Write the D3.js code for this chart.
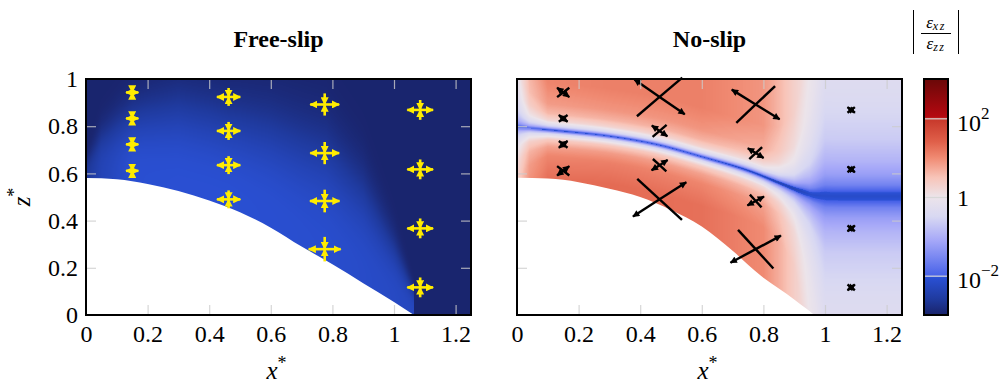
<!DOCTYPE html>
<html>
<head>
<meta charset="utf-8">
<script src="https://cdn.jsdelivr.net/npm/d3@7/dist/d3.min.js"></script>
<style>
  body { margin: 0; background: #fff; }
  svg, svg text { font-family: "Liberation Serif", "DejaVu Serif", serif; fill: #000; }
</style>
</head>
<body>
<svg id="chart" width="1007" height="385"></svg>
<script>
// ---- values ----
const xTicks = [0, 0.2, 0.4, 0.6, 0.8, 1, 1.2];
const xTickLabels = ["0", "0.2", "0.4", "0.6", "0.8", "1", "1.2"];
const zTicks = [0, 0.2, 0.4, 0.6, 0.8, 1];
const zTickLabels = ["0", "0.2", "0.4", "0.6", "0.8", "1"];
const cbTicks = [1e-2, 1, 1e2];
const cbBase = ["10", "1", "10"];
const cbExp = ["\u22122", "", "2"];
const panelTitles = ["Free-slip", "No-slip"];

// bed profile (lower edge of the coloured field)
const fsBedX = [0, 0.1, 0.2, 0.3, 0.4, 0.5, 0.6, 0.7, 0.8, 0.9, 1.0, 1.065];
const fsBedZ = [0.58, 0.575, 0.555, 0.525, 0.485, 0.435, 0.37, 0.29, 0.215, 0.135, 0.055, 0];
const nsBedX = [0, 0.1, 0.2, 0.3, 0.4, 0.5, 0.6, 0.7, 0.79, 0.85, 0.9, 0.94, 0.965];
const nsBedZ = [0.582, 0.578, 0.563, 0.535, 0.5, 0.445, 0.375, 0.272, 0.168, 0.112, 0.066, 0.026, 0];

// free-slip field: log10 ratio = background + amplitude * decay with height above bed
const fsBg = -2.97;
const fsX = [0, 0.05, 0.15, 0.3, 0.46, 0.6, 0.78, 0.9, 1.0, 1.065];
const fsAmp = [0.3, 0.6, 0.88, 0.9, 0.9, 0.88, 0.85, 0.8, 0.75, 0.7];
const fsH = [0.08, 0.2, 0.3, 0.38, 0.4, 0.45, 0.5, 0.42, 0.25, 0.1];

// no-slip field: red level away from the low-ratio band, band centreline and band shape
const nsX = [0, 0.04, 0.1, 0.3, 0.6, 0.8, 0.85, 0.9, 0.95, 1.0, 1.25];
const nsTop = [0.0, 0.7, 1.05, 1.1, 1.1, 0.9, 0.62, 0.32, 0.05, -0.12, -0.12];
const nsBot = [0.4, 1.0, 1.25, 1.3, 1.25, 1.0, 0.7, 0.35, 0.05, -0.12, -0.12];
const nsWidth = [2.0, 1.4, 1.0, 1.0, 1.0, 1.0, 1.1, 1.5, 3.0, 6.0, 6.0];
const nsDepth = [0.6, 0.8, 1.0, 1.0, 1.0, 1.0, 0.95, 0.85, 0.7, 0.64, 0.64];
const bandX = [0, 0.15, 0.3, 0.46, 0.6, 0.76, 0.86, 0.92, 0.97, 1.05, 1.25];
const bandZ = [0.795, 0.778, 0.757, 0.72, 0.67, 0.607, 0.555, 0.525, 0.507, 0.503, 0.503];
const dropD = [0, 0.004, 0.008, 0.015, 0.025, 0.04, 0.07, 0.11, 0.2];
const dropV = [-3.2, -2.9, -2.3, -1.75, -1.3, -0.85, -0.45, -0.2, 0];

// colour map (log10 of the ratio)
const cmapLog = [-3, -2.6, -2.05, -2.0, -1.6, -1.1, -0.5, 0, 0.5, 1.0, 1.4, 1.95, 2.05, 3];
const cmapColor = ["#19236a", "#1f3a9e", "#2a50d4", "#4862e8", "#7282f0", "#a6a8f8", "#d8d8f2",
  "#ece4ea", "#f8c4b8", "#f08a72", "#e0604a", "#c83a2c", "#b40810", "#6a0808"];

// strain-rate crosses
const markerX = [0.15, 0.15, 0.15, 0.15, 0.463, 0.463, 0.463, 0.463,
  0.775, 0.775, 0.775, 0.775, 1.085, 1.085, 1.085, 1.085];
const markerZ = [0.943, 0.833, 0.723, 0.611, 0.924, 0.78, 0.635, 0.49,
  0.892, 0.686, 0.483, 0.279, 0.869, 0.617, 0.367, 0.117];
const fsStrain = [0.02, 0.02, 0.02, 0.02, 0.038, 0.038, 0.038, 0.038,
  0.047, 0.047, 0.048, 0.052, 0.042, 0.042, 0.042, 0.042];
const nsStrain = [0.028, 0.02, 0.02, 0.028, 0.11, 0.034, 0.034, 0.113,
  0.1, 0.033, 0.033, 0.1, 0.017, 0.017, 0.017, 0.017];
const nsAngle = [-45, -45, 45, 45, -42, -42, 40, 40, -39, -39, 35, 35, -45, -45, 45, 45];

// ---- layout ----
const serif = "'Liberation Serif', 'DejaVu Serif', serif";
const svg = d3.select("#chart").style("font-family", serif);
const plotTop = 79, plotBottom = 315;
const panelLeft = [86, 517];
const panelW = 385;
const cbLeft = 924, cbW = 24;

const y = d3.scaleLinear().domain([0, 1]).range([plotBottom, plotTop]);
const xs = panelLeft.map(l => d3.scaleLinear().domain([0, 1.25]).range([l, l + panelW]));

const cmap = d3.scaleLinear().domain(cmapLog).range(cmapColor).clamp(true);
const LUT = d3.range(601).map(k => d3.rgb(cmap(-3 + k * 0.01)));
const lut = v => LUT[Math.max(0, Math.min(600, Math.round((v + 3) * 100)))];

const defs = svg.append("defs");
function arrowDef(id, color, w, h) {
  defs.append("marker").attr("id", id)
    .attr("viewBox", "0 0 10 10").attr("refX", 9).attr("refY", 5)
    .attr("markerWidth", w).attr("markerHeight", h)
    .attr("markerUnits", "userSpaceOnUse").attr("orient", "auto")
    .append("path").attr("d", "M0,0 L10,5 L0,10 Z").attr("fill", color);
}
arrowDef("ahY", "#ffec00", 8, 8);
arrowDef("ahK", "#000", 9, 7);

// ---- field rendering ----
function renderField(x, valueAt) {
  const x0 = x.range()[0];
  const w = panelW, h = plotBottom - plotTop;
  const canvas = document.createElement("canvas");
  canvas.width = w; canvas.height = h;
  const ctx = canvas.getContext("2d");
  const img = ctx.createImageData(w, h);
  for (let j = 0; j < h; j++) {
    const py = plotTop + j + 0.5;
    const zv = y.invert(py);
    for (let i = 0; i < w; i++) {
      const px = x0 + i + 0.5;
      const c = lut(valueAt(x.invert(px), zv, i, py));
      const k = (j * w + i) * 4;
      img.data[k] = c.r; img.data[k + 1] = c.g; img.data[k + 2] = c.b; img.data[k + 3] = 255;
    }
  }
  ctx.putImageData(img, 0, 0);
  return canvas.toDataURL();
}

// free-slip
const fsBed = d3.scaleLinear().domain(fsBedX).range(fsBedZ).clamp(true);
const fsAmpS = d3.scaleLinear().domain(fsX).range(fsAmp).clamp(true);
const fsHS = d3.scaleLinear().domain(fsX).range(fsH).clamp(true);
const fsEnd = fsBedX[fsBedX.length - 1];
function fsValue(xv, zv) {
  if (xv >= fsEnd) return fsBg;
  const hgt = Math.max(0, zv - fsBed(xv));
  return fsBg + fsAmpS(xv) * Math.exp(-Math.pow(hgt / fsHS(xv), 3));
}

// no-slip: band centreline sampled along a smooth curve
const xN = xs[1];
const bandPath = svg.append("path")
  .attr("d", d3.line().x(d => xN(d[0])).y(d => y(d[1])).curve(d3.curveMonotoneX)(d3.zip(bandX, bandZ)))
  .attr("fill", "none");
const bandNode = bandPath.node();
const bandLen = bandNode.getTotalLength();
const bandPts = d3.range(0, bandLen, 0.5).map(l => bandNode.getPointAtLength(l));
bandPath.remove();
const bis = d3.bisector(p => p.x).left;
const bandYAt = px => {
  const k = Math.max(1, Math.min(bandPts.length - 1, bis(bandPts, px)));
  const a = bandPts[k - 1], b = bandPts[k];
  const t = b.x === a.x ? 0 : (px - a.x) / (b.x - a.x);
  return a.y + t * (b.y - a.y);
};
const bandCol = d3.range(panelW).map(i => {
  const px = xN.range()[0] + i + 0.5;
  const by = bandYAt(px);
  const s = (bandYAt(px + 1) - bandYAt(px - 1)) / 2;
  return { y: by, c: 1 / Math.sqrt(1 + s * s) };
});
const nsTopS = d3.scaleLinear().domain(nsX).range(nsTop).clamp(true);
const nsBotS = d3.scaleLinear().domain(nsX).range(nsBot).clamp(true);
const nsWidthS = d3.scaleLinear().domain(nsX).range(nsWidth).clamp(true);
const nsDepthS = d3.scaleLinear().domain(nsX).range(nsDepth).clamp(true);
const dropS = d3.scaleLinear().domain(dropD).range(dropV).clamp(true);
const pxPerZ = plotBottom - plotTop;
function nsValue(xv, zv, i, py) {
  const b = bandCol[i];
  const d = Math.abs(py - b.y) * b.c / pxPerZ;
  const base = py < b.y ? nsTopS(xv) : nsBotS(xv);
  return base + nsDepthS(xv) * dropS(d / nsWidthS(xv));
}

const beds = [[fsBedX, fsBedZ], [nsBedX, nsBedZ]];
const values = [fsValue, nsValue];

panelLeft.forEach((left, p) => {
  const x = xs[p];
  const g = svg.append("g");
  g.append("image")
    .attr("x", left).attr("y", plotTop).attr("width", panelW).attr("height", plotBottom - plotTop)
    .attr("preserveAspectRatio", "none")
    .attr("href", renderField(x, values[p]));

  // bed (no ice) region
  g.append("path")
    .attr("d", d3.area().x(d => x(d[0])).y0(y(0)).y1(d => y(d[1])).curve(d3.curveMonotoneX)(d3.zip(beds[p][0], beds[p][1])))
    .attr("fill", "#fff");

  // crosses
  const mg = g.append("g").attr("fill", "none").attr("stroke-linecap", "butt");
  markerX.forEach((mx, i) => {
    const mz = markerZ[i];
    const L = p === 0 ? fsStrain[i] : nsStrain[i];
    const a = (p === 0 ? 0 : nsAngle[i]) * Math.PI / 180;
    const ex = L * Math.cos(a), ez = L * Math.sin(a);
    const cx = -L * Math.sin(a), cz = L * Math.cos(a);
    const color = p === 0 ? "#ffec00" : "#000";
    const head = p === 0 ? "url(#ahY)" : "url(#ahK)";
    const sw = p === 0 ? 2.6 : 2.4;
    [[cx, cz], [-cx, -cz]].forEach(([dx, dz]) => {
      mg.append("line")
        .attr("x1", x(mx + dx)).attr("y1", y(mz + dz))
        .attr("x2", x(mx)).attr("y2", y(mz))
        .attr("stroke", color).attr("stroke-width", sw)
        .attr("marker-end", p === 0 ? head : null);
    });
    [[ex, ez], [-ex, -ez]].forEach(([dx, dz]) => {
      mg.append("line")
        .attr("x1", x(mx)).attr("y1", y(mz))
        .attr("x2", x(mx + dx)).attr("y2", y(mz + dz))
        .attr("stroke", color).attr("stroke-width", sw)
        .attr("marker-end", head);
    });
  });

  // axes (ticks inside, on all four sides)
  const axB = g.append("g").attr("transform", `translate(0,${plotBottom})`)
    .call(d3.axisBottom(x).tickValues(xTicks).tickFormat((d, i) => xTickLabels[i]).tickSizeInner(-10).tickSizeOuter(0).tickPadding(10));
  const axT = g.append("g").attr("transform", `translate(0,${plotTop})`)
    .call(d3.axisTop(x).tickValues(xTicks).tickFormat("").tickSizeInner(-10).tickSizeOuter(0));
  const axL = g.append("g").attr("transform", `translate(${left},0)`)
    .call(d3.axisLeft(y).tickValues(zTicks).tickFormat((d, i) => p === 0 ? zTickLabels[i] : "").tickSizeInner(-10).tickSizeOuter(0).tickPadding(8));
  const axR = g.append("g").attr("transform", `translate(${left + panelW},0)`)
    .call(d3.axisRight(y).tickValues(zTicks).tickFormat("").tickSizeInner(-10).tickSizeOuter(0));
  [axB, axT, axL, axR].forEach(ax => {
    ax.attr("font-family", null).attr("font-size", null);
    ax.select(".domain").remove();
    ax.selectAll(".tick line").attr("stroke", "#cccccc").attr("stroke-opacity", 0.8).attr("stroke-width", 1.2);
    ax.selectAll(".tick text").style("font-family", serif).style("font-size", "24px").attr("fill", "#000");
  });
  // hide ticks at the frame corners
  axB.selectAll(".tick").filter(d => d === 0).select("line").remove();
  axT.selectAll(".tick").filter(d => d === 0).select("line").remove();
  axL.selectAll(".tick").filter(d => d === 0 || d === 1).select("line").remove();
  axR.selectAll(".tick").filter(d => d === 0 || d === 1).select("line").remove();

  g.append("rect")
    .attr("x", left).attr("y", plotTop).attr("width", panelW).attr("height", plotBottom - plotTop)
    .attr("fill", "none").attr("stroke", "#000").attr("stroke-width", 2);

  // title
  g.append("text").attr("x", left + panelW / 2).attr("y", 47)
    .attr("text-anchor", "middle").style("font-family", serif).style("font-size", "24px").style("font-weight", "bold")
    .text(panelTitles[p]);

  // x label
  const xl = g.append("text").attr("x", left + panelW / 2 - 2).attr("y", 379)
    .attr("text-anchor", "middle").style("font-family", serif).style("font-size", "25px");
  xl.append("tspan").style("font-style", "italic").text("x");
  xl.append("tspan").style("font-size", "18px").attr("dy", -10).text("*");
});

// z label
const zl = svg.append("text").attr("transform", `translate(30,${(plotTop + plotBottom) / 2}) rotate(-90)`)
  .attr("text-anchor", "middle").style("font-family", serif).style("font-size", "25px");
zl.append("tspan").style("font-style", "italic").text("z");
zl.append("tspan").style("font-size", "18px").attr("dy", -10).text("*");

// ---- colour bar ----
const cbScale = d3.scaleLog().domain([1e-3, 1e3]).range([plotBottom, plotTop]);
const grad = defs.append("linearGradient").attr("id", "cbGrad")
  .attr("x1", 0).attr("y1", 1).attr("x2", 0).attr("y2", 0);
cmapLog.forEach((v, i) => {
  grad.append("stop").attr("offset", (v + 3) / 6).attr("stop-color", cmapColor[i]);
});
svg.append("rect").attr("x", cbLeft).attr("y", plotTop).attr("width", cbW).attr("height", plotBottom - plotTop)
  .attr("fill", "url(#cbGrad)");
const cbAx = svg.append("g").attr("transform", `translate(${cbLeft + cbW},0)`)
  .call(d3.axisRight(cbScale).tickValues(cbTicks).tickFormat("").tickSizeInner(-cbW).tickSizeOuter(0).tickPadding(8));
cbAx.attr("font-family", null).attr("font-size", null);
cbAx.select(".domain").remove();
cbAx.selectAll(".tick line").attr("stroke", "#d8d8d8").attr("stroke-width", 1.2);
cbAx.selectAll(".tick").each(function (d, i) {
  const t = d3.select(this).append("text")
    .attr("x", 9).attr("y", cbExp[i] ? 12 : 8)
    .style("font-family", serif).style("font-size", "24px").attr("fill", "#000");
  t.append("tspan").text(cbBase[i]);
  if (cbExp[i]) t.append("tspan").style("font-size", "17px").attr("dy", -12).text(cbExp[i]);
});
svg.append("rect").attr("x", cbLeft).attr("y", plotTop).attr("width", cbW).attr("height", plotBottom - plotTop)
  .attr("fill", "none").attr("stroke", "#000").attr("stroke-width", 2);

// colour bar title |eps_xz / eps_zz|
const cx0 = cbLeft + cbW / 2;
const ttl = svg.append("g");
[cx0 - 22.5, cx0 + 22.5].forEach(bx => {
  ttl.append("line").attr("x1", bx).attr("x2", bx).attr("y1", 10).attr("y2", 54)
    .attr("stroke", "#000").attr("stroke-width", 1);
});
ttl.append("line").attr("x1", cx0 - 15).attr("x2", cx0 + 15).attr("y1", 33.5).attr("y2", 33.5)
  .attr("stroke", "#000").attr("stroke-width", 1);
[["xz", 28], ["zz", 49]].forEach(([sub, by]) => {
  const t = ttl.append("text").attr("x", cx0).attr("y", by).attr("text-anchor", "middle")
    .style("font-family", serif).style("font-size", "17px");
  t.append("tspan").style("font-style", "italic").text("\u03b5");
  t.append("tspan").attr("dy", 2).style("font-style", "italic").style("font-size", "12px")
    .attr("letter-spacing", 1.5).text(sub);
});
</script>
</body>
</html>
